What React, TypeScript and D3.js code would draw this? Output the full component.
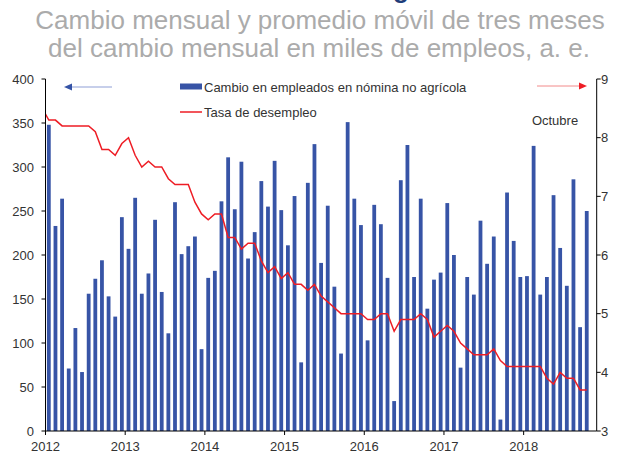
import React from "react";
import * as d3 from "d3";

// Tick labels
const yearLabels = ["2012", "2013", "2014", "2015", "2016", "2017", "2018"];
const leftTicks = [0, 50, 100, 150, 200, 250, 300, 350, 400];
const rightTicks = [3, 4, 5, 6, 7, 8, 9];

// Monthly change in non-farm payroll employment (thousands), Jan 2012 - Oct 2018
const payroll2012 = [348, 233, 264, 71, 117, 67, 156, 173, 194, 153, 130, 243];
const payroll2013 = [207, 265, 156, 179, 240, 158, 111, 260, 201, 210, 221, 93];
const payroll2014 = [174, 182, 261, 311, 252, 306, 196, 226, 284, 255, 307, 251];
const payroll2015 = [211, 267, 78, 282, 326, 191, 256, 164, 88, 351, 264, 234];
const payroll2016 = [103, 257, 235, 174, 34, 285, 325, 175, 264, 139, 172, 180];
const payroll2017 = [259, 200, 72, 175, 155, 239, 190, 221, 13, 271, 216, 175];
const payroll2018 = [176, 324, 155, 175, 268, 208, 165, 286, 118, 250];
const payrollChange = [
  ...payroll2012, ...payroll2013, ...payroll2014, ...payroll2015,
  ...payroll2016, ...payroll2017, ...payroll2018,
];

// Unemployment rate (%), Dec 2011 - Oct 2018 (first value sits just left of the axis)
const unempDec2011 = [8.5];
const unemp2012 = [8.3, 8.3, 8.2, 8.2, 8.2, 8.2, 8.2, 8.1, 7.8, 7.8, 7.7, 7.9];
const unemp2013 = [8.0, 7.7, 7.5, 7.6, 7.5, 7.5, 7.3, 7.2, 7.2, 7.2, 6.9, 6.7];
const unemp2014 = [6.6, 6.7, 6.7, 6.3, 6.3, 6.1, 6.2, 6.2, 5.9, 5.7, 5.8, 5.6];
const unemp2015 = [5.7, 5.5, 5.5, 5.4, 5.5, 5.3, 5.2, 5.1, 5.0, 5.0, 5.0, 5.0];
const unemp2016 = [4.9, 4.9, 5.0, 5.0, 4.7, 4.9, 4.9, 4.9, 5.0, 4.9, 4.6, 4.7];
const unemp2017 = [4.8, 4.7, 4.5, 4.4, 4.3, 4.3, 4.3, 4.4, 4.2, 4.1, 4.1, 4.1];
const unemp2018 = [4.1, 4.1, 4.1, 3.9, 3.8, 4.0, 3.9, 3.9, 3.7, 3.7];
const unemploymentRate = [
  ...unempDec2011, ...unemp2012, ...unemp2013, ...unemp2014, ...unemp2015,
  ...unemp2016, ...unemp2017, ...unemp2018,
];

const W = 618;
const H = 454;
const X0 = 45.5;
const X1 = 596.7;
const YTOP = 79;
const YBOT = 431;
const SLOTS = 83;

const FONT = "'Liberation Sans', Arial, Helvetica, sans-serif";
const BAR = "#3754a6";
const RED = "#ee1d25";
const TXT = "#333333";

export default function App() {
  const x = d3.scaleLinear().domain([0, SLOTS]).range([X0, X1]);
  const yL = d3.scaleLinear().domain([0, 400]).range([YBOT, YTOP]);
  const yR = d3.scaleLinear().domain([3, 9]).range([YBOT, YTOP]);
  const barW = 3.8;

  const line = d3
    .line<number>()
    .x((_, i) => x(i - 1 + 0.5))
    .y((d) => yR(d))
    .curve(d3.curveLinear);

  return (
    <svg
      width={W}
      height={H}
      style={{ position: "absolute", left: 0, top: 0, background: "#fff" }}
      fontFamily={FONT}
    >
      <defs>
        <clipPath id="plot">
          <rect x={X0} y={0} width={X1 - X0} height={YBOT} />
        </clipPath>
      </defs>
      <rect width={W} height={H} fill="#fff" />

      {/* Title, cut by the top edge as in the reference (only a descender shows) */}
      <text x={237} y={-2.5} fontSize={26} fontWeight="bold" fill="#1f3d7a">
        Nómina no agrícola
      </text>
      {/* Subtitle */}
      <text x={320} y={28.5} fontSize={26} fill="#ababab" textAnchor="middle">
        Cambio mensual y promedio móvil de tres meses
      </text>
      <text x={319} y={57} fontSize={26} fill="#ababab" textAnchor="middle">
        del cambio mensual en miles de empleos, a. e.
      </text>

      {/* Bars */}
      {payrollChange.map((v, i) => (
        <rect
          key={i}
          x={x(i + 0.5) - barW / 2}
          y={yL(v)}
          width={barW}
          height={yL(0) - yL(v)}
          fill={BAR}
        />
      ))}

      {/* Unemployment line */}
      <path
        d={line(unemploymentRate) || ""}
        fill="none"
        stroke={RED}
        strokeWidth={1.5}
        clipPath="url(#plot)"
      />

      {/* Left axis */}
      <line x1={X0} x2={X0} y1={YTOP} y2={YBOT} stroke="#000" strokeWidth={1} />
      {leftTicks.map((t) => (
        <g key={t}>
          <line x1={X0 - 4} x2={X0} y1={yL(t)} y2={yL(t)} stroke="#000" />
          <text x={34} y={yL(t) + 4.5} fontSize={13} textAnchor="end" fill={TXT}>
            {t}
          </text>
        </g>
      ))}

      {/* Right axis */}
      <line x1={X1} x2={X1} y1={YTOP} y2={YBOT} stroke="#000" strokeWidth={1} />
      {rightTicks.map((t) => (
        <g key={t}>
          <line x1={X1} x2={X1 + 4} y1={yR(t)} y2={yR(t)} stroke="#000" />
          <text x={601} y={yR(t) + 4.5} fontSize={13} fill={TXT}>
            {t}
          </text>
        </g>
      ))}

      {/* Bottom axis */}
      <line x1={X0} x2={X1} y1={YBOT} y2={YBOT} stroke="#000" strokeWidth={1} />
      {yearLabels.map((lab, j) => (
        <g key={lab}>
          <line x1={x(j * 12)} x2={x(j * 12)} y1={YBOT} y2={YBOT + 4} stroke="#000" />
          <text x={x(j * 12)} y={451} fontSize={13} textAnchor="middle" fill={TXT}>
            {lab}
          </text>
        </g>
      ))}

      {/* Legend */}
      <rect x={180} y={83.5} width={22} height={6} fill={BAR} />
      <text x={204} y={91.5} fontSize={13} fill={TXT}>
        Cambio en empleados en nómina no agrícola
      </text>
      <line x1={180} x2={202} y1={112} y2={112} stroke={RED} strokeWidth={1.5} />
      <text x={204} y={116.5} fontSize={13} fill={TXT}>
        Tasa de desempleo
      </text>

      {/* Octubre note */}
      <text x={555} y={125} fontSize={13} textAnchor="middle" fill={TXT}>
        Octubre
      </text>

      {/* Axis arrows */}
      <line x1={112} x2={70} y1={87} y2={87} stroke="#8f9fd6" strokeWidth={1} />
      <path d="M64,87 L72,83.5 L72,90.5 Z" fill="#3553a6" />
      <line x1={537} x2={580} y1={86} y2={86} stroke="#f28a8a" strokeWidth={1} />
      <path d="M587,86 L579,82.5 L579,89.5 Z" fill={RED} />
    </svg>
  );
}
